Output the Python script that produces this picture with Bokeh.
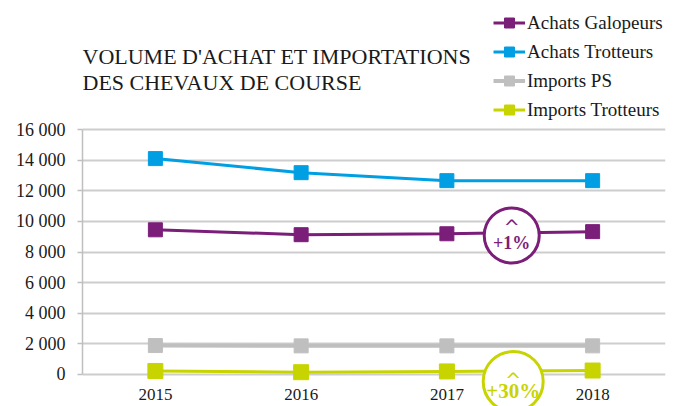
from bokeh.plotting import figure
from bokeh.models import Range1d, FixedTicker, Legend, LegendItem, Label
from bokeh.core.properties import value
from bokeh.embed import file_html
from bokeh.resources import INLINE

# ---- data ----
years = ["2015", "2016", "2017", "2018"]
achats_galopeurs = [9450, 9130, 9190, 9330]
achats_trotteurs = [14100, 13180, 12660, 12660]
imports_ps = [1890, 1870, 1870, 1870]
imports_trotteurs = [230, 150, 200, 260]

series_names = ["Achats Galopeurs", "Achats Trotteurs", "Imports PS", "Imports Trotteurs"]
series_values = [achats_galopeurs, achats_trotteurs, imports_ps, imports_trotteurs]
series_colors = ["#7B1E7A", "#009FE3", "#BFBFBF", "#C8D400"]

y_ticks = [0, 2000, 4000, 6000, 8000, 10000, 12000, 14000, 16000]
y_tick_labels = ["0", "2 000", "4 000", "6 000", "8 000", "10 000", "12 000", "14 000", "16 000"]

title_lines = ["VOLUME D'ACHAT ET IMPORTATIONS", "DES CHEVAUX DE COURSE"]

# growth badges (x in year index units, y in data units)
badge_text = ["+1%", "+30%"]
badge_color = ["#7B1E7A", "#C8D400"]
badge_x = [2.445, 2.455]
badge_y = [9078, -457]
badge_caret_y = [9650, -330]
badge_text_y = [8600, -1080]
badge_size = [55, 60]
badge_font = ["18px", "21px"]

FONT = "Liberation Serif"
x = list(range(len(years)))

# frame covers the whole canvas vertically so title/legend sit inside it
p = figure(width=673, height=406, output_backend="svg", toolbar_location=None,
           x_range=Range1d(-0.5, 3.5), y_range=Range1d(-2090, 24425),
           min_border_left=82, min_border_right=8, min_border_top=0,
           min_border_bottom=0)
p.outline_line_color = None
p.background_fill_color = "white"
p.border_fill_color = "white"

# grid
p.xgrid.visible = False
p.ygrid.ticker = FixedTicker(ticks=y_ticks)
p.ygrid.grid_line_color = "#CDCDCD"
p.ygrid.grid_line_width = 1.8

# y axis
p.yaxis.ticker = FixedTicker(ticks=y_ticks)
p.yaxis.major_label_overrides = {t: l for t, l in zip(y_ticks, y_tick_labels)}
p.yaxis.bounds = (0, 16000)
p.yaxis.axis_line_color = "#BFBFBF"
p.yaxis.axis_line_width = 1.5
p.yaxis.major_tick_line_color = "#BFBFBF"
p.yaxis.major_tick_line_width = 1.5
p.yaxis.major_tick_out = 5
p.yaxis.major_tick_in = 0
p.yaxis.minor_tick_line_color = None
p.yaxis.major_label_standoff = 12
p.yaxis.major_label_text_font = FONT
p.yaxis.major_label_text_font_size = "18px"
p.yaxis.major_label_text_color = "#1a1a1a"

# x axis placed at y=0
p.xaxis.fixed_location = 0
p.xaxis.ticker = FixedTicker(ticks=x)
p.xaxis.major_label_overrides = {i: y for i, y in zip(x, years)}
p.xaxis.axis_line_color = None
p.xaxis.major_tick_line_color = None
p.xaxis.minor_tick_line_color = None
p.xaxis.major_label_standoff = 9
p.xaxis.major_label_text_font = FONT
p.xaxis.major_label_text_font_size = "17px"
p.xaxis.major_label_text_color = "#1a1a1a"

items = []
widths = [3, 3, 4, 3]
msizes = [14, 14, 14, 15]
for name, vals, col, w, ms in zip(series_names, series_values, series_colors, widths, msizes):
    ln = p.line(x, vals, line_color=col, line_width=w)
    sc = p.scatter(x, vals, marker="square", size=ms, fill_color=col, line_color=col)
    items.append(LegendItem(label=name, renderers=[ln, sc]))

# badges
for i in range(len(badge_text)):
    p.scatter([badge_x[i]], [badge_y[i]], marker="circle", size=badge_size[i],
              fill_color="white", line_color=badge_color[i], line_width=3)
    p.text([badge_x[i]], [badge_caret_y[i]], text=["^"], text_color=badge_color[i],
           text_font=value("DejaVu Sans"), text_font_size="19px",
           text_align="center", text_baseline="middle")
    p.text([badge_x[i]], [badge_text_y[i]], text=[badge_text[i]], text_color=badge_color[i],
           text_font=value(FONT), text_font_size=badge_font[i], text_font_style="bold",
           text_align="center", text_baseline="middle")

legend = Legend(items=items, location=(411, 284), orientation="vertical",
                glyph_width=32, glyph_height=25, label_height=25, spacing=4,
                padding=0, margin=0, label_standoff=2,
                label_text_font=FONT, label_text_font_size="19px",
                label_text_color="#1a1a1a",
                border_line_color=None, background_fill_alpha=0)
p.add_layout(legend, "center")

title = Label(x=0, y=337, x_units="screen", y_units="screen",
              text="\n".join(title_lines), text_font=FONT, text_font_size="22px",
              text_color="#1a1a1a", text_baseline="middle", text_align="left",
              text_line_height=1.05)
p.add_layout(title)

open("out.html", "w").write(file_html(p, INLINE))
